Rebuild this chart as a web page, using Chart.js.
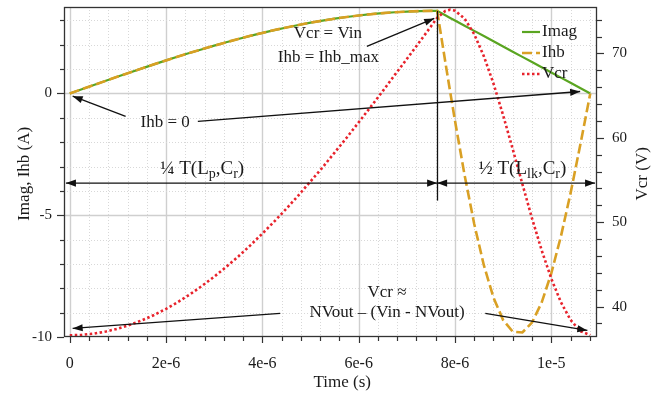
<!DOCTYPE html>
<html>
<head>
<meta charset="utf-8">
<script src="https://cdn.jsdelivr.net/npm/chart.js@4.4.1/dist/chart.umd.min.js"></script>
<style>
  html, body { margin: 0; padding: 0; background: #ffffff; }
  canvas { display: block; }
</style>
</head>
<body>
<canvas id="chart" width="658" height="393"></canvas>
<script>
// Sample instants in microseconds
const timeUs = [0, 0.25, 0.5, 0.75, 1, 1.25, 1.5, 1.75, 2, 2.25, 2.5, 2.75, 3, 3.25, 3.5, 3.75,
  4, 4.25, 4.5, 4.75, 5, 5.25, 5.5, 5.75, 6, 6.25, 6.5, 6.75, 7, 7.25, 7.5, 7.63,
  7.8, 7.9, 8.0, 8.2, 8.4, 8.6, 8.8, 9.0, 9.2, 9.4, 9.6, 9.8, 10.0, 10.2, 10.4, 10.6, 10.81];

// Magnetizing current (A)
const imag = [0, 0.174, 0.348, 0.521, 0.693, 0.863, 1.030, 1.195, 1.357, 1.515, 1.669, 1.818, 1.963, 2.103, 2.236, 2.365,
  2.487, 2.602, 2.710, 2.811, 2.906, 2.990, 3.070, 3.139, 3.201, 3.254, 3.299, 3.335, 3.361, 3.380, 3.389, 3.39,
  3.209, 3.102, 2.996, 2.782, 2.569, 2.356, 2.143, 1.930, 1.716, 1.503, 1.290, 1.077, 0.864, 0.650, 0.437, 0.224, 0];

// Half-bridge current (A)
const ihb = [0, 0.174, 0.348, 0.521, 0.693, 0.863, 1.030, 1.195, 1.357, 1.515, 1.669, 1.818, 1.963, 2.103, 2.236, 2.365,
  2.487, 2.602, 2.710, 2.811, 2.906, 2.990, 3.070, 3.139, 3.201, 3.254, 3.299, 3.335, 3.361, 3.380, 3.389, 3.39,
  1.287, 0.071, -1.114, -3.358, -5.359, -7.052, -8.383, -9.300, -9.782, -9.816, -9.407, -8.588, -7.391, -5.872, -4.104, -2.137, 0];

// Resonant capacitor voltage (V)
const vcr = [36.6, 36.65, 36.80, 37.05, 37.39, 37.84, 38.38, 39.01, 39.74, 40.56, 41.47, 42.47, 43.55, 44.71, 45.94, 47.26,
  48.65, 50.10, 51.61, 53.19, 54.84, 56.49, 58.25, 60.01, 61.83, 63.67, 65.53, 67.46, 69.33, 71.26, 73.19, 74.2,
  75.03, 75.18, 75.07, 74.12, 72.28, 69.67, 66.43, 62.68, 58.66, 54.53, 50.46, 46.69, 43.32, 40.53, 38.43, 37.10, 36.63];

const seriesNames = ['Imag', 'Ihb', 'Vcr'];

const xTickValues = [0, 2e-6, 4e-6, 6e-6, 8e-6, 1e-5];
const xTickLabels = ['0', '2e-6', '4e-6', '6e-6', '8e-6', '1e-5'];
const leftTickValues = [-10, -5, 0];
const leftTickLabels = ['-10', '-5', '0'];
const rightTickValues = [40, 50, 60, 70];
const rightTickLabels = ['40', '50', '60', '70'];

// Switching instant separating the two resonant intervals (µs)
const tSwitch = 7.63;

const SERIF = '"Liberation Serif", "Times New Roman", Times, serif';
const TEXT = '#1a1a1a';
const COLORS = { imag: '#5aa521', ihb: '#d9a024', vcr: '#e8232c' };
const DASHES = { imag: [], ihb: [10, 4], vcr: [2.5, 2.5] };

function points(ys) {
  return timeUs.map((t, i) => ({ x: t * 1e-6, y: ys[i] }));
}

function noPad(s) {
  s.paddingTop = 0; s.paddingBottom = 0; s.paddingLeft = 0; s.paddingRight = 0;
}

function arrowHead(ctx, x1, y1, x2, y2) {
  const ang = Math.atan2(y2 - y1, x2 - x1);
  const len = 10, half = 3.6;
  ctx.beginPath();
  ctx.moveTo(x2, y2);
  ctx.lineTo(x2 - len * Math.cos(ang) + half * Math.sin(ang), y2 - len * Math.sin(ang) - half * Math.cos(ang));
  ctx.lineTo(x2 - len * Math.cos(ang) - half * Math.sin(ang), y2 - len * Math.sin(ang) + half * Math.cos(ang));
  ctx.closePath();
  ctx.fill();
}

function arrow(ctx, p1, p2, both) {
  ctx.beginPath();
  ctx.moveTo(p1[0], p1[1]);
  ctx.lineTo(p2[0], p2[1]);
  ctx.stroke();
  arrowHead(ctx, p1[0], p1[1], p2[0], p2[1]);
  if (both) arrowHead(ctx, p2[0], p2[1], p1[0], p1[1]);
}

// Text with subscripts: parts = [[text, isSubscript], ...]
function richText(ctx, parts, cx, cy, size, subSize) {
  let total = 0;
  const widths = parts.map(([s, sub]) => {
    ctx.font = (sub ? subSize : size) + 'px ' + SERIF;
    const w = ctx.measureText(s).width;
    total += w;
    return w;
  });
  let x = cx - total / 2;
  ctx.textAlign = 'left';
  ctx.textBaseline = 'alphabetic';
  parts.forEach(([s, sub], i) => {
    ctx.font = (sub ? subSize : size) + 'px ' + SERIF;
    ctx.fillText(s, x, cy + size * 0.33 + (sub ? size * 0.2 : 0));
    x += widths[i];
  });
}

const decorations = {
  id: 'decorations',
  beforeDatasetsDraw(chart) {
    const { ctx, chartArea: a, scales: { x, y } } = chart;
    ctx.save();
    ctx.beginPath();
    ctx.rect(a.left, a.top, a.right - a.left, a.bottom - a.top);
    ctx.clip();
    // vertical grid: solid at labelled ticks, dotted in between
    for (let k = 0; k <= 27; k++) {
      const px = Math.round(x.getPixelForValue(k * 0.4e-6)) + 0.5;
      const major = k % 5 === 0;
      ctx.strokeStyle = major ? '#cfcfcf' : '#d8d8d8';
      ctx.lineWidth = major ? 1.4 : 1;
      ctx.setLineDash(major ? [] : [1, 2]);
      ctx.beginPath(); ctx.moveTo(px, a.top); ctx.lineTo(px, a.bottom); ctx.stroke();
    }
    // horizontal grid from the current axis
    for (let v = -10; v <= 3; v++) {
      const py = Math.round(y.getPixelForValue(v)) + 0.5;
      const major = v % 5 === 0;
      ctx.strokeStyle = major ? '#cfcfcf' : '#d8d8d8';
      ctx.lineWidth = major ? 1.4 : 1;
      ctx.setLineDash(major ? [] : [1, 2]);
      ctx.beginPath(); ctx.moveTo(a.left, py); ctx.lineTo(a.right, py); ctx.stroke();
    }
    ctx.restore();
  },
  afterDatasetsDraw(chart) {
    const { ctx, chartArea: a, scales: { x, y, y1 } } = chart;
    const X = t => x.getPixelForValue(t * 1e-6);
    const Y = v => y.getPixelForValue(v);
    ctx.save();

    // frame
    ctx.strokeStyle = '#333333';
    ctx.lineWidth = 1.3;
    ctx.setLineDash([]);
    ctx.strokeRect(a.left + 0.5, a.top + 0.5, a.right - a.left - 1, a.bottom - a.top - 1);

    // tick marks
    ctx.lineWidth = 1.2;
    for (let k = 0; k <= 27; k++) {
      const px = Math.round(X(k * 0.4)) + 0.5;
      const len = k % 5 === 0 ? 6 : 4;
      ctx.beginPath(); ctx.moveTo(px, a.bottom); ctx.lineTo(px, a.bottom + len); ctx.stroke();
    }
    for (let v = -10; v <= 3; v++) {
      const py = Math.round(Y(v)) + 0.5;
      const len = v % 5 === 0 ? 7 : 4;
      ctx.beginPath(); ctx.moveTo(a.left, py); ctx.lineTo(a.left - len, py); ctx.stroke();
    }
    for (let v = 38; v <= 74; v += 2) {
      const py = Math.round(y1.getPixelForValue(v)) + 0.5;
      const len = v % 10 === 0 ? 7 : 5;
      ctx.beginPath(); ctx.moveTo(a.right, py); ctx.lineTo(a.right + len, py); ctx.stroke();
    }

    // axis titles
    ctx.fillStyle = TEXT;
    ctx.font = '17px ' + SERIF;
    ctx.textAlign = 'center';
    ctx.textBaseline = 'middle';
    ctx.fillText('Time (s)', X(5.66), 383);
    ctx.save();
    ctx.translate(25, Y(-3.3));
    ctx.rotate(-Math.PI / 2);
    ctx.fillText('Imag, Ihb (A)', 0, 0);
    ctx.restore();
    ctx.save();
    ctx.translate(643, Y(-3.3));
    ctx.rotate(-Math.PI / 2);
    ctx.fillText('Vcr (V)', 0, 0);
    ctx.restore();

    // annotations
    ctx.strokeStyle = '#111111';
    ctx.fillStyle = '#111111';
    ctx.lineWidth = 1.3;
    const peak = imag[timeUs.indexOf(tSwitch)];

    // switching instant marker
    ctx.beginPath();
    ctx.moveTo(Math.round(X(tSwitch)) + 0.5, Y(peak));
    ctx.lineTo(Math.round(X(tSwitch)) + 0.5, Y(-4.4));
    ctx.stroke();

    // interval arrows
    const yInt = Y(-3.68);
    arrow(ctx, [X(tSwitch), yInt], [X(-0.08), yInt], true);
    arrow(ctx, [X(tSwitch), yInt], [X(10.91), yInt], true);

    // pointer arrows
    arrow(ctx, [X(6.17), Y(1.93)], [X(7.57), Y(3.08)]);
    arrow(ctx, [X(1.16), Y(-0.94)], [X(0.06), Y(-0.11)]);
    arrow(ctx, [X(2.66), Y(-1.15)], [X(10.6), Y(0.08)]);
    arrow(ctx, [X(4.37), Y(-9.03)], [X(0.06), Y(-9.65)]);
    arrow(ctx, [X(8.63), Y(-9.03)], [X(10.75), Y(-9.73)]);

    ctx.fillStyle = TEXT;
    ctx.font = '17px ' + SERIF;
    ctx.textAlign = 'center';
    ctx.textBaseline = 'middle';
    ctx.fillText('Vcr = Vin', X(5.36), Y(2.46));
    ctx.fillText('Ihb = Ihb_max', X(5.37), Y(1.48));
    ctx.fillText('Ihb = 0', X(1.98), Y(-1.19));
    ctx.fillText('Vcr \u2248', X(6.59), Y(-8.18));
    ctx.fillText('NVout \u2013 (Vin - NVout)', X(6.59), Y(-8.99));

    richText(ctx, [['\u00BC T(L', false], ['p', true], [',C', false], ['r', true], [')', false]], X(2.75), Y(-3.05), 19, 14);
    richText(ctx, [['\u00BD T(L', false], ['lk', true], [',C', false], ['r', true], [')', false]], X(9.4), Y(-3.05), 19, 14);

    // legend
    const keys = ['imag', 'ihb', 'vcr'];
    keys.forEach((k, i) => {
      const ly = a.top + 25 + 21 * i;
      ctx.strokeStyle = COLORS[k];
      ctx.lineWidth = k === 'imag' ? 2.2 : 2.6;
      ctx.setLineDash(DASHES[k]);
      ctx.beginPath(); ctx.moveTo(a.right - 75, ly); ctx.lineTo(a.right - 57, ly); ctx.stroke();
      ctx.setLineDash([]);
      ctx.fillStyle = TEXT;
      ctx.font = '17px ' + SERIF;
      ctx.textAlign = 'left';
      ctx.textBaseline = 'middle';
      ctx.fillText(seriesNames[i], a.right - 55, ly);
    });

    ctx.restore();
  }
};

new Chart(document.getElementById('chart'), {
  type: 'line',
  data: {
    datasets: [
      { label: seriesNames[2], data: points(vcr), yAxisID: 'y1', borderColor: COLORS.vcr, borderWidth: 2.6,
        borderDash: DASHES.vcr, pointRadius: 0, tension: 0, fill: false, order: 0 },
      { label: seriesNames[1], data: points(ihb), yAxisID: 'y', borderColor: COLORS.ihb, borderWidth: 2.6,
        borderDash: DASHES.ihb, pointRadius: 0, tension: 0, fill: false, order: 1 },
      { label: seriesNames[0], data: points(imag), yAxisID: 'y', borderColor: COLORS.imag, borderWidth: 2.2,
        pointRadius: 0, tension: 0, fill: false, order: 2 }
    ]
  },
  options: {
    responsive: false,
    animation: false,
    devicePixelRatio: 1,
    layout: { padding: { top: 7, left: 0, right: 0, bottom: 0 } },
    plugins: { legend: { display: false }, tooltip: { enabled: false } },
    scales: {
      x: {
        type: 'linear', min: -0.12e-6, max: 10.95e-6,
        grid: { display: false, drawTicks: false }, border: { display: false },
        afterBuildTicks: s => { s.ticks = xTickValues.map(v => ({ value: v })); },
        afterFit: s => { s.height = 56; noPad(s); },
        ticks: { callback: (v, i) => xTickLabels[i], autoSkip: false, maxRotation: 0,
          padding: 17, color: TEXT, font: { family: SERIF, size: 16 } }
      },
      y: {
        type: 'linear', position: 'left', min: -10, max: 3.55,
        grid: { display: false, drawTicks: false }, border: { display: false },
        afterBuildTicks: s => { s.ticks = leftTickValues.map(v => ({ value: v })); },
        afterFit: s => { s.width = 64; noPad(s); },
        ticks: { callback: (v, i) => leftTickLabels[i], padding: 12, color: TEXT, font: { family: SERIF, size: 15 } }
      },
      y1: {
        type: 'linear', position: 'right', min: 36.4, max: 75.5,
        grid: { display: false, drawTicks: false }, border: { display: false },
        afterBuildTicks: s => { s.ticks = rightTickValues.map(v => ({ value: v })); },
        afterFit: s => { s.width = 61; noPad(s); },
        ticks: { callback: (v, i) => rightTickLabels[i], padding: 15, color: TEXT, font: { family: SERIF, size: 15 } }
      }
    }
  },
  plugins: [decorations]
});
</script>
</body>
</html>
